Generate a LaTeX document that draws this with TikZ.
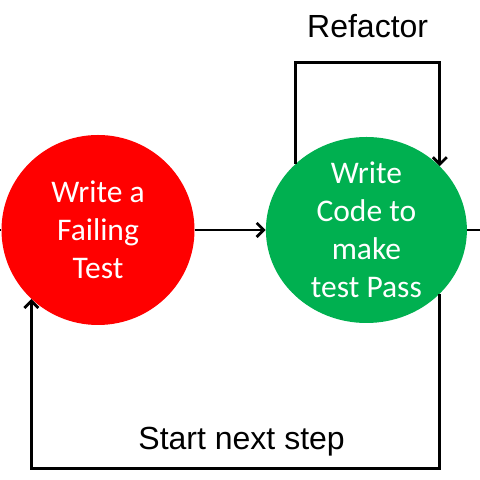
\documentclass[tikz,border=0pt]{standalone}
\usepackage{fontspec}
\setmainfont{Liberation Sans}
\newfontfamily\bodyfont{Carlito}
\usepackage{tikz}
\usetikzlibrary{shapes.geometric, arrows.meta, positioning}

\definecolor{failred}{HTML}{FF0000}
\definecolor{passgreen}{HTML}{00B050}

\begin{document}
\begin{tikzpicture}[
    x=1bp, y=1bp,
    stage/.style={ellipse, text=white, inner sep=-8bp, align=center, font=\bodyfont\fontsize{31.5bp}{38bp}\selectfont},
    caption/.style={inner sep=0pt, font=\fontsize{32bp}{36bp}\selectfont},
    plain/.style={draw, line width=2.8bp},
    line/.style={draw, -{Straight Barb[length=7bp, width=14bp]}, line width=2.8bp} % open arrow head
]
    \useasboundingbox (0,0) rectangle (480,480);

    % Nodes
    \node [stage, fill=failred, minimum width=193bp, minimum height=190bp] (fail) at (98,250) {Write a\\Failing\\Test};
    \node [stage, fill=passgreen, minimum width=201bp, minimum height=186bp, right=71bp of fail] (pass) {Write\\Code to\\make\\test Pass};

    % Loose ends at the edges
    \coordinate (in) at (0,250);
    \coordinate (out) at (480,250);

    % Paths
    \path [plain] (in) -- (fail);
    \path [line] (fail) -- (pass);
    \path [plain] (pass) -- (out);

    % Refactor loop on top
    \draw [line] (pass.137) -- ++(0,101) -| node[caption, pos=0.25, above=24bp] (refactor) {Refactor} (pass.41);

    % Back to the start
    \draw [line] (pass.-41) -- ++(0,-175) -| node[caption, pos=0.25, above=11.5bp, xshift=6bp] (next) {Start next step} (fail.226);
\end{tikzpicture}
\end{document}
